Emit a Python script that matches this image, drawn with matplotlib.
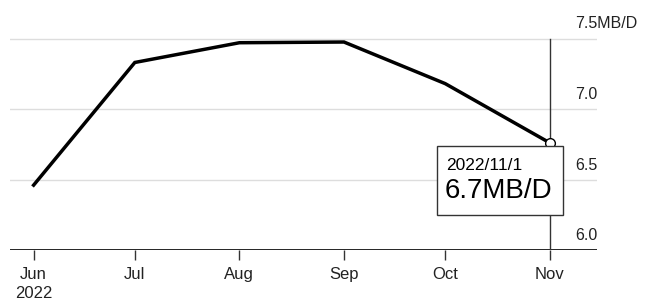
import numpy as np
import matplotlib.pyplot as plt
import matplotlib.dates as mdates
from datetime import date, timedelta

plt.rcParams['font.family'] = ['Liberation Sans', 'DejaVu Sans']

# data
months      = [date(2022, 6, 1), date(2022, 7, 1), date(2022, 8, 1),
               date(2022, 9, 1), date(2022, 10, 1), date(2022, 11, 1)]
values      = [6.46, 7.33, 7.47, 7.475, 7.18, 6.76]
tick_labels = ["Jun\n2022", "Jul", "Aug", "Sep", "Oct", "Nov"]
y_ticks     = [6.0, 6.5, 7.0, 7.5]
y_labels    = ["6.0", "6.5", "7.0", "7.5MB/D"]
tip_date    = "2022/11/1"
tip_value   = "6.7MB/D"

W, H = 649, 307
fig = plt.figure(figsize=(W/100, H/100), dpi=100)
ax = fig.add_axes([10/W, 1-250/H, 587/W, 230/H])

xdates = mdates.date2num(months)
ax.set_xlim(mdates.date2num(date(2022, 6, 1) - timedelta(days=7.4)),
            mdates.date2num(date(2022, 11, 1) + timedelta(days=14.4)))
ax.set_ylim(6.0, 6.0 + 230/141)

for yv in y_ticks[1:]:
    ax.axhline(yv, color='#dddddd', lw=1, zorder=0)
ax.axhline(6.0, color='black', lw=1.2, zorder=1)

for yv, lab in zip(y_ticks, y_labels):
    ax.annotate(lab, xy=(565/587, yv), xycoords=('axes fraction', 'data'),
                xytext=(0, 10), textcoords='offset pixels',
                ha='left', va='baseline', fontsize=11.5, color='#222222')

# hover line at last point
ax.plot([xdates[-1], xdates[-1]], [6.0, 7.5], color='#333333', lw=1, zorder=2)

ax.plot(xdates, values, color='black', lw=2.5, solid_joinstyle='miter', zorder=3)
ax.plot(xdates[-1], values[-1], 'o', ms=7, mfc='white', mec='black', mew=1, zorder=4)

ax.set_xticks(xdates)
ax.set_xticklabels(tick_labels, fontsize=12, color='#222222', linespacing=1.35)
ax.tick_params(axis='x', length=7, width=1, color='#333333', pad=5)
ax.set_yticks([])
for s in ax.spines.values():
    s.set_visible(False)

# tooltip
fig.patches.append(plt.Rectangle((437/W, 1-215/H), 126/W, 69/H,
                                 transform=fig.transFigure, fc='white',
                                 ec='#333333', lw=1, zorder=5))
fig.text(446/W, 1-165/H, tip_date, fontsize=12.5, va='center', ha='left', zorder=6)
fig.text(445/W, 1-191/H, tip_value, fontsize=20, va='center', ha='left', zorder=6)

fig.savefig("out.png", dpi=100)
